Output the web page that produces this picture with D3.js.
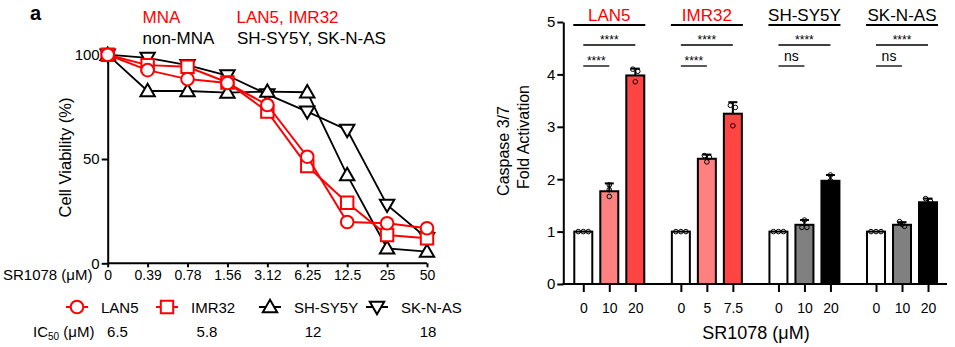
<!DOCTYPE html>
<html><head><meta charset="utf-8">
<script src="https://cdn.jsdelivr.net/npm/d3@7"></script>
<style>
html,body{margin:0;padding:0;background:#fff;}
text{font-family:"Liberation Sans",Arial,Helvetica,sans-serif;}
</style></head>
<body><svg id="chart" width="955" height="347"></svg>
<script>
// ---------- Data: left panel (cell viability) ----------
const doseLabels = ["0","0.39","0.78","1.56","3.12","6.25","12.5","25","50"];
const seriesNames = ["SK-N-AS","SH-SY5Y","IMR32","LAN5"];
const viabSKNAS  = [100, 98.5, 95, 90, 81, 72.7, 63.9, 28, 12];
const viabSHSY5Y = [100, 82.6, 82.6, 81.8, 82.3, 82, 42.3, 7.2, 5.6];
const viabIMR32  = [100, 95, 94.2, 86.7, 72.7, 46.6, 29, 13.6, 12];
const viabLAN5   = [100, 92.6, 88.3, 86.4, 75.9, 51.1, 19.8, 19.2, 16.8];
const yTicksLeft = [0, 50, 100];
const legendNames = ["LAN5","IMR32","SH-SY5Y","SK-N-AS"];
const ic50Values = ["6.5","5.8","12","18"];

// ---------- Data: right panel (caspase 3/7) ----------
const groups = ["LAN5","IMR32","SH-SY5Y","SK-N-AS"];
const groupDoses = [["0","10","20"],["0","5","7.5"],["0","10","20"],["0","10","20"]];
const casMeans = [[1,1.77,3.98],[1,2.39,3.25],[1,1.13,1.97],[1,1.13,1.56]];
const casSD    = [[0,0.15,0.13],[0,0.08,0.22],[0,0.09,0.11],[0,0.05,0.07]];
const casReps  = [
  [[1,1,1],[1.67,1.80,1.89],[4.10,4.06,3.86]],
  [[1,1,1],[2.33,2.45,2.42],[3.41,3.37,3.02]],
  [[1,1,1],[1.22,1.08,1.08],[2.08,1.97,1.88]],
  [[1,1,1],[1.19,1.14,1.10],[1.63,1.58,1.48]]
];
const sigTop = ["****","****","****","****"];
const sigBottom = ["****","****","ns","ns"];
const yTicksRight = [0,1,2,3,4,5];

// ---------- Styles ----------
const RED = "#ff0000";
const svg = d3.select("#chart");

// ===================== LEFT PANEL =====================
const xL = d3.scalePoint().domain(doseLabels).range([107.7, 427]);
const yL = d3.scaleLinear().domain([0, 100]).range([263.3, 54.7]);

const gL = svg.append("g");
const yAxisL = gL.append("g").attr("transform", `translate(${xL(doseLabels[0])},0)`)
  .call(d3.axisLeft(yL).tickValues(yTicksLeft).tickFormat(d3.format("d")).tickSize(6).tickSizeOuter(0).tickPadding(2));
yAxisL.selectAll("text").style("font-size","15px").attr("fill","#000");
yAxisL.selectAll("path,line").attr("stroke","#000").attr("stroke-width",2);
const xAxisL = gL.append("g").attr("transform", `translate(0,${yL(0)})`)
  .call(d3.axisBottom(xL).tickSize(4).tickSizeOuter(0).tickPadding(3));
xAxisL.selectAll("text").style("font-size","14px").attr("fill","#000");
xAxisL.selectAll("path,line").attr("stroke","#000").attr("stroke-width",2);
xAxisL.select(".domain").attr("d", `M${xL(doseLabels[0])},0H${xL(doseLabels[doseLabels.length-1])}`);

gL.append("text").attr("x", 3).attr("y", 280).style("font-size","15px").text("SR1078 (\u03bcM)");
gL.append("text").attr("transform","translate(70.5,157.5) rotate(-90)")
  .attr("text-anchor","middle").style("font-size","16.5px").text("Cell Viability (%)");

function markerPath(type) {
  if (type === "circle") return d3.symbol().type(d3.symbolCircle).size(Math.PI*6.3*6.3)();
  if (type === "square") return "M-6.2,-6.2H6.2V6.2H-6.2Z";
  if (type === "up") return "M0,-7.2L7.2,5.2H-7.2Z";
  return "M0,7.2L7.2,-5.2H-7.2Z";
}
const seriesDefs = {
  "SK-N-AS": {vals: viabSKNAS, color:"#000", shape:"down", lw:1.8},
  "SH-SY5Y": {vals: viabSHSY5Y, color:"#000", shape:"up", lw:1.8},
  "IMR32":   {vals: viabIMR32, color:RED, shape:"square", lw:2},
  "LAN5":    {vals: viabLAN5, color:RED, shape:"circle", lw:2}
};
const line = d3.line().x((d,i)=>xL(doseLabels[i])).y(d=>yL(d));
seriesNames.forEach(name => {
  const s = seriesDefs[name];
  gL.append("path").attr("d", line(s.vals)).attr("fill","none")
    .attr("stroke", s.color).attr("stroke-width", s.lw);
  gL.selectAll(null).data(s.vals).enter().append("path")
    .attr("d", markerPath(s.shape))
    .attr("transform",(d,i)=>`translate(${xL(doseLabels[i])},${yL(d)})`)
    .attr("fill","#fff").attr("stroke", s.color).attr("stroke-width", 2);
});

gL.append("text").attr("x",30).attr("y",20).style("font-size","20px").style("font-weight","bold").text("a");
gL.append("text").attr("x",142.5).attr("y",22.5).style("font-size","17px").attr("fill",RED).text("MNA");
gL.append("text").attr("x",236.5).attr("y",22.5).style("font-size","17px").attr("fill",RED).text("LAN5, IMR32");
gL.append("text").attr("x",142.5).attr("y",44).style("font-size","17px").text("non-MNA");
gL.append("text").attr("x",237).attr("y",44).style("font-size","17px").text("SH-SY5Y, SK-N-AS");

const legX = d3.scalePoint().domain(legendNames).range([77, 377]);
const legendItems = gL.selectAll(".leg").data(legendNames).enter().append("g")
  .attr("transform", d => `translate(${legX(d) + (d==="IMR32"? -10 : d==="SH-SY5Y"? -7 : 0)},307)`);
legendItems.append("line").attr("x1",-11).attr("x2",11).attr("y1",0).attr("y2",0)
  .attr("stroke", d=>seriesDefs[d].color).attr("stroke-width",2);
legendItems.append("path").attr("d", d=>markerPath(seriesDefs[d].shape))
  .attr("fill","#fff").attr("stroke", d=>seriesDefs[d].color).attr("stroke-width",2);
legendItems.append("text").attr("x",24).attr("y",5.5).style("font-size","15px").text(d=>d);

const ic = gL.append("text").attr("x",33).attr("y",336.5).style("font-size","15px");
ic.append("tspan").text("IC");
ic.append("tspan").attr("dy",3).style("font-size","10px").text("50");
ic.append("tspan").attr("dy",-3).text(" (\u03bcM)");
const icX = d3.scaleOrdinal().domain(legendNames).range([117.5, 207, 313, 428]);
gL.selectAll(".ic").data(legendNames).enter().append("text")
  .attr("x", d=>icX(d)).attr("y",336.5).attr("text-anchor","middle").style("font-size","15px")
  .text((d,i)=>ic50Values[i]);

// ===================== RIGHT PANEL =====================
const gR = svg.append("g");
const yR = d3.scaleLinear().domain([0,5]).range([284, 22]);
const xG = d3.scaleBand().domain(groups).range([560.5, 950.8]).paddingInner(0).paddingOuter(0);
const inner = (gi) => d3.scalePoint().domain(groupDoses[gi])
  .range([xG(groups[gi]) + xG.bandwidth()/2 - 26, xG(groups[gi]) + xG.bandwidth()/2 + 26]);
const barW = 18;
const fills = [["#fff","#ff8080","#ff4444"],["#fff","#ff8080","#ff4444"],["#fff","#808080","#000"],["#fff","#808080","#000"]];

const yAxisR = gR.append("g").attr("transform","translate(563.3,0)")
  .call(d3.axisLeft(yR).tickValues(yTicksRight).tickFormat(d3.format("d")).tickSize(6).tickSizeOuter(0).tickPadding(2));
yAxisR.selectAll("text").style("font-size","15px").attr("fill","#000");
yAxisR.selectAll("path,line").attr("stroke","#000").attr("stroke-width",2);

groups.forEach((g, gi) => {
  const xs = inner(gi);
  groupDoses[gi].forEach((dose, di) => {
    const cx = xs(dose);
    const m = casMeans[gi][di], sd = casSD[gi][di];
    gR.append("rect").attr("x", cx - barW/2).attr("width", barW)
      .attr("y", yR(m)).attr("height", yR(0) - yR(m))
      .attr("fill", fills[gi][di]).attr("stroke","#000").attr("stroke-width",2);
    if (sd > 0) {
      gR.append("line").attr("x1",cx).attr("x2",cx).attr("y1",yR(m)).attr("y2",yR(m+sd))
        .attr("stroke","#000").attr("stroke-width",2);
      gR.append("line").attr("x1",cx-4.5).attr("x2",cx+4.5).attr("y1",yR(m+sd)).attr("y2",yR(m+sd))
        .attr("stroke","#000").attr("stroke-width",2);
    }
    const reps = casReps[gi][di];
    reps.forEach((v, ri) => {
      const near = reps.map((w,k)=>k).filter(k => Math.abs(reps[k]-v) < 0.07);
      const pos = near.indexOf(ri);
      const off = (pos - (near.length-1)/2) * 5;
      gR.append("circle").attr("cx", cx + off).attr("cy", yR(v)).attr("r", 2.3)
        .attr("fill","none").attr("stroke","#000").attr("stroke-width",1);
    });
  });
  const ax = gR.append("g").attr("transform",`translate(0,${yR(0)})`)
    .call(d3.axisBottom(xs).tickSize(8).tickSizeOuter(0).tickPadding(11));
  ax.select(".domain").remove();
  ax.selectAll("text").style("font-size","14px").attr("fill","#000");
  ax.selectAll("line").attr("stroke","#000").attr("stroke-width",2);

  const gc = xG(g) + xG.bandwidth()/2;
  const d0 = xs(groupDoses[gi][0]), d1 = xs(groupDoses[gi][1]), d2 = xs(groupDoses[gi][2]);
  gR.append("text").attr("x",gc).attr("y",20.7).attr("text-anchor","middle").style("font-size","17px")
    .attr("fill", gi < 2 ? RED : "#000").text(g);
  gR.append("line").attr("x1",gc-36).attr("x2",gc+36).attr("y1",25).attr("y2",25)
    .attr("stroke","#000").attr("stroke-width",2);
  gR.append("line").attr("x1",d0).attr("x2",d2).attr("y1",45).attr("y2",45)
    .attr("stroke","#000").attr("stroke-width",1.3);
  gR.append("text").attr("x",(d0+d2)/2).attr("y",44).attr("text-anchor","middle").style("font-size","12px").text(sigTop[gi]);
  gR.append("line").attr("x1",d0).attr("x2",d1).attr("y1",66).attr("y2",66)
    .attr("stroke","#000").attr("stroke-width",1.3);
  const isNs = sigBottom[gi] === "ns";
  gR.append("text").attr("x",(d0+d1)/2).attr("y", isNs ? 61 : 65).attr("text-anchor","middle")
    .style("font-size", isNs ? "14px" : "12px").text(sigBottom[gi]);
});
gR.append("line").attr("x1",562.3).attr("x2",947).attr("y1",yR(0)).attr("y2",yR(0))
  .attr("stroke","#000").attr("stroke-width",2);

gR.append("text").attr("transform","translate(509,151) rotate(-90)").attr("text-anchor","middle")
  .style("font-size","16px").text("Caspase 3/7");
gR.append("text").attr("transform","translate(529,137) rotate(-90)").attr("text-anchor","middle")
  .style("font-size","16px").text("Fold Activation");
gR.append("text").attr("x",756).attr("y",338.5).attr("text-anchor","middle").style("font-size","18px").text("SR1078 (\u03bcM)");
</script></body></html>
